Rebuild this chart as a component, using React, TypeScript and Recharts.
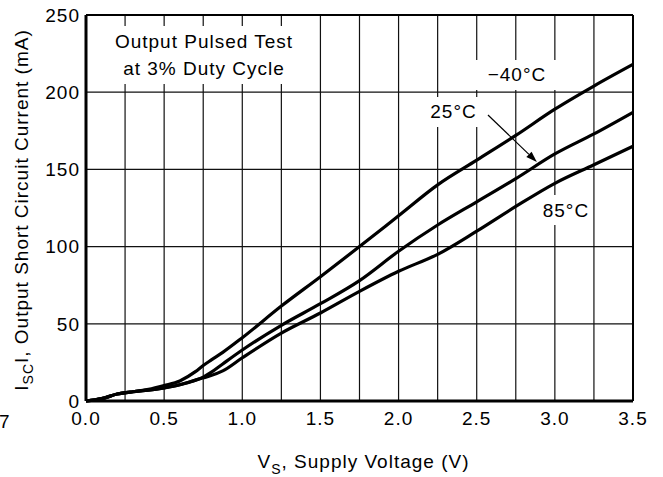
import {
  LineChart,
  Line,
  XAxis,
  YAxis,
  CartesianGrid,
  ReferenceArea,
  ReferenceLine,
  Label,
} from "recharts";

// Supply voltage (V) sample points shared by the three curves
const volts = [0, 0.1, 0.2, 0.3, 0.4, 0.5, 0.6, 0.7, 0.75, 0.8, 0.875, 1.0, 1.25, 1.5, 1.75, 2.0, 2.25, 2.5, 2.75, 3.0, 3.25, 3.5];

// |ISC| in mA
const iscMinus40 = [0, 1.5, 4.5, 6, 7.5, 10, 13, 19, 23, 26.5, 31.5, 41, 61.5, 80.5, 100, 120, 140, 156, 172, 189, 204, 218];
const isc25 = [0, 1.5, 4.5, 6, 7, 8.5, 10.5, 13.5, 15.5, 18.5, 24, 33, 49, 63, 78, 97, 114, 129, 144, 160, 173, 187];
const isc85 = [0, 1.5, 4.5, 6, 7, 8.5, 10.5, 13.5, 15, 16.5, 19.5, 28, 44, 57, 71, 84, 95, 110, 126, 141, 153, 165];

const xTicks = [0, 0.5, 1.0, 1.5, 2.0, 2.5, 3.0, 3.5];
const yTicks = [0, 50, 100, 150, 200, 250];
const xGrid = [0.25, 0.5, 0.75, 1.0, 1.25, 1.5, 1.75, 2.0, 2.25, 2.5, 2.75, 3.0, 3.25];
const yGrid = [50, 100, 150, 200];

const FONT = "'Liberation Sans', Arial, Helvetica, sans-serif";

const data = volts.map((v, i) => ({
  v,
  m40: iscMinus40[i],
  t25: isc25[i],
  t85: isc85[i],
}));

// white label boxes that blank out the grid behind the annotations
const notes = [
  { x1: 0.141, x2: 1.369, y1: 205.3, y2: 242.9, lines: ["Output Pulsed Test", "at 3% Duty Cycle"] },
  { x1: 2.482, x2: 3.033, y1: 201.4, y2: 220.9, lines: ["\u221240\u00b0C"] },
  { x1: 2.169, x2: 2.534, y1: 177.5, y2: 196.9, lines: ["25\u00b0C"] },
  { x1: 2.905, x2: 3.237, y1: 114, y2: 133.4, lines: ["85\u00b0C"] },
];

const textStyle = { fontFamily: FONT, fontSize: 19, letterSpacing: 1, fill: "#000" };

function BoxText({ viewBox, lines }: { viewBox?: any; lines: string[] }) {
  if (!viewBox) return null;
  const cx = viewBox.x + viewBox.width / 2;
  const cy = viewBox.y + viewBox.height / 2;
  return (
    <g>
      {lines.map((t, i) => (
        <text key={t} x={cx} y={cy + 6.5 + (i - (lines.length - 1) / 2) * 27} textAnchor="middle" style={textStyle}>
          {t}
        </text>
      ))}
    </g>
  );
}

function Arrow(props: any) {
  const { x1, y1, x2, y2 } = props;
  const ang = Math.atan2(y2 - y1, x2 - x1);
  const len = 11;
  const half = 3.8;
  const bx = x2 - len * Math.cos(ang);
  const by = y2 - len * Math.sin(ang);
  const px = -Math.sin(ang) * half;
  const py = Math.cos(ang) * half;
  return (
    <g>
      <line x1={x1} y1={y1} x2={bx} y2={by} stroke="#000" strokeWidth={1.2} />
      <polygon points={`${x2},${y2} ${bx + px},${by + py} ${bx - px},${by - py}`} fill="#000" />
    </g>
  );
}

function YTitle({ viewBox }: { viewBox?: any }) {
  const cy = viewBox ? viewBox.y + viewBox.height / 2 + 2 : 210;
  const x = 28;
  return (
    <g>
      <text transform={`rotate(-90 ${x} ${cy})`} x={x} y={cy} textAnchor="middle" style={textStyle}>
        I
        <tspan dy={5} fontSize={14}>SC</tspan>
        <tspan dy={-5}>I, Output Short Circuit Current (mA)</tspan>
      </text>
      <text x={-1} y={428} style={textStyle}>7</text>
    </g>
  );
}

function XTitle({ viewBox }: { viewBox?: any }) {
  const cx = viewBox ? viewBox.x + viewBox.width / 2 + 4 : 364;
  return (
    <text x={cx} y={468} textAnchor="middle" style={textStyle}>
      V
      <tspan dy={6} fontSize={14}>S</tspan>
      <tspan dy={-6}>, Supply Voltage (V)</tspan>
    </text>
  );
}

export default function App() {
  return (
    <div style={{ position: "absolute", left: 0, top: 0, width: 663, height: 477, background: "#fff" }}>
      <LineChart width={663} height={477} data={data} margin={{ top: 15, right: 30, bottom: 0, left: 0 }}>
        <CartesianGrid
          stroke="#111"
          strokeWidth={1.2}
          verticalValues={xGrid}
          horizontalValues={yGrid}
        />
        <XAxis
          type="number"
          dataKey="v"
          domain={[0, 3.5]}
          ticks={xTicks}
          tickFormatter={(v: number) => v.toFixed(1)}
          height={76}
          tickLine={false}
          tickSize={0}
          tickMargin={11}
          axisLine={{ stroke: "#000", strokeWidth: 3 }}
          tick={textStyle}
          interval={0}
        >
          <Label content={<XTitle />} />
        </XAxis>
        <YAxis
          type="number"
          domain={[0, 250]}
          ticks={yTicks}
          width={86}
          tickLine={false}
          tickSize={0}
          tickMargin={6}
          axisLine={{ stroke: "#000", strokeWidth: 3 }}
          tick={textStyle}
          interval={0}
        >
          <Label content={<YTitle />} />
        </YAxis>
        <ReferenceLine y={250} stroke="#000" strokeWidth={2} />
        <ReferenceLine x={3.5} stroke="#000" strokeWidth={2} />
        {notes.map((n) => (
          <ReferenceArea
            key={n.lines[0]}
            x1={n.x1}
            x2={n.x2}
            y1={n.y1}
            y2={n.y2}
            fill="#fff"
            fillOpacity={1}
            stroke="none"
            label={<BoxText lines={n.lines} />}
          />
        ))}
        <ReferenceLine
          segment={[
            { x: 2.572, y: 185.2 },
            { x: 2.885, y: 154.8 },
          ]}
          shape={<Arrow />}
        />
        <Line type="monotone" dataKey="m40" stroke="#000" strokeWidth={3.2} dot={false} isAnimationActive={false} />
        <Line type="monotone" dataKey="t25" stroke="#000" strokeWidth={3.2} dot={false} isAnimationActive={false} />
        <Line type="monotone" dataKey="t85" stroke="#000" strokeWidth={3.2} dot={false} isAnimationActive={false} />
      </LineChart>
    </div>
  );
}
